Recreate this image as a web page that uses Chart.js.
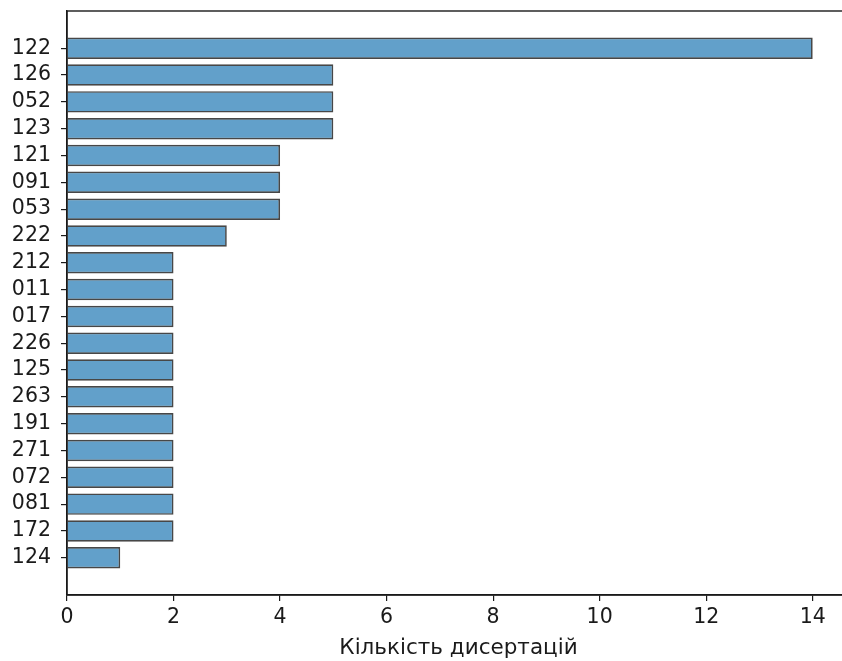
<!DOCTYPE html>
<html>
<head>
<meta charset="utf-8">
<script src="https://cdn.jsdelivr.net/npm/chart.js@4"></script>
<style>
  html, body { margin: 0; padding: 0; background: #fff; overflow: hidden; }
  #wrap { width: 850px; height: 661px; }
</style>
</head>
<body>
<div id="wrap"><canvas id="chart"></canvas></div>
<script>
// Dissertation counts per specialty code (top row first)
const codes = ['122', '126', '052', '123', '121', '091', '053', '222', '212', '011',
               '017', '226', '125', '263', '191', '271', '072', '081', '172', '124'];
const counts = [14, 5, 5, 5, 4, 4, 4, 3, 2, 2,
                2, 2, 2, 2, 2, 2, 2, 2, 2, 1];
const xTicks = [0, 2, 4, 6, 8, 10, 12, 14];

const tickFont = { family: 'DejaVu Sans', size: 20.5 };
const titleFont = { family: 'DejaVu Sans', size: 21.5 };
const ink = '#1a1a1a';

// frame around the plot area (top + right spines)
const framePlugin = {
  id: 'frame',
  afterDraw(chart) {
    const { ctx, chartArea: a } = chart;
    ctx.save();
    ctx.strokeStyle = ink;
    ctx.lineWidth = 1.4;
    ctx.strokeRect(a.left, a.top, a.right - a.left, a.bottom - a.top);
    ctx.restore();
  }
};

new Chart(document.getElementById('chart'), {
  type: 'bar',
  data: {
    datasets: [{
      data: codes.map((c, i) => ({ x: counts[i], y: i })),
      backgroundColor: 'rgba(31, 119, 180, 0.7)',
      borderColor: 'rgba(0, 0, 0, 0.72)',
      borderWidth: 1.7,
      barPercentage: 0.8,
      categoryPercentage: 1.0
    }]
  },
  options: {
    indexAxis: 'y',
    responsive: true,
    maintainAspectRatio: false,
    animation: false,
    layout: { padding: { top: 11, right: 0, left: 0, bottom: 0 } },
    plugins: {
      legend: { display: false },
      tooltip: { enabled: false }
    },
    scales: {
      x: {
        type: 'linear',
        min: 0,
        max: 14.7,
        afterBuildTicks: s => { s.ticks = xTicks.map(v => ({ value: v })); },
        ticks: { color: ink, font: tickFont, padding: 4, maxRotation: 0 },
        grid: { display: true, drawOnChartArea: false, drawTicks: true, tickLength: 6, color: ink, lineWidth: 1.2 },
        border: { display: true, color: ink, width: 1.4 },
        title: { display: true, text: 'Кількість дисертацій', color: ink, font: titleFont, padding: { top: 2, bottom: 0 } },
        afterFit: s => { s.height = 66; s.paddingLeft = 0; s.paddingRight = 0; }
      },
      y: {
        type: 'linear',
        reverse: true,
        offset: false,
        min: -1.39,
        max: 20.39,
        afterBuildTicks: s => { s.ticks = codes.map((c, i) => ({ value: i })); },
        ticks: { color: ink, font: tickFont, padding: 10, callback: v => codes[v] },
        grid: { display: true, offset: false, drawOnChartArea: false, drawTicks: true, tickLength: 6, color: ink, lineWidth: 1.2 },
        border: { display: true, color: ink, width: 1.4 },
        afterFit: s => { s.width = 67; s.paddingTop = 0; s.paddingBottom = 0; }
      }
    }
  },
  plugins: [framePlugin]
});
</script>
</body>
</html>
